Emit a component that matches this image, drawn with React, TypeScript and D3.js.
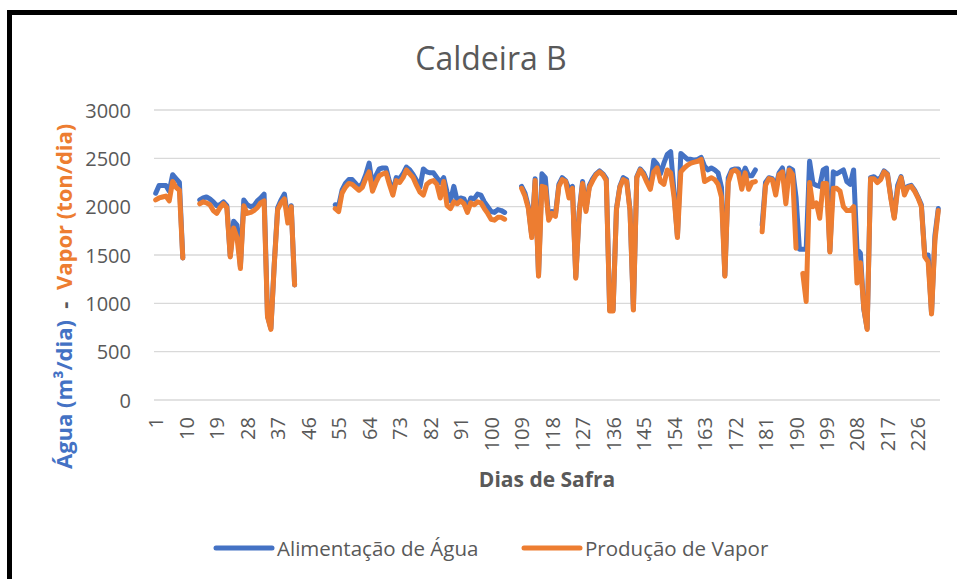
import * as d3 from "d3"

// Alimentação de Água (m³/dia), one value per dia de safra, null = sem dado
const agua: (number | null)[] = [
  2140, 2220, 2220, 2220, 2160, 2330, 2290, 2250, 1470, null,
  null, null, null, 2070, 2090, 2100, 2080, 2050, 2010, 2020,
  2050, 2010, 1490, 1850, 1810, 1380, 2070, 2020, 2000, 2010,
  2060, 2090, 2130, 870, 740, 1410, 1990, 2070, 2130, 1870,
  2010, 1190, null, null, null, null, null, null, null, null,
  null, null, null, 2020, 2010, 2170, 2240, 2280, 2280, 2240,
  2200, 2240, 2330, 2450, 2210, 2320, 2390, 2400, 2400, 2260,
  2150, 2300, 2290, 2340, 2410, 2380, 2330, 2270, 2200, 2390,
  2360, 2350, 2350, 2300, 2250, 2300, 2150, 2060, 2210, 2060,
  2090, 2080, 1980, 2090, 2080, 2130, 2120, 2050, 2000, 1950,
  1940, 1970, 1960, 1940, null, null, null, null, 2210, 2140,
  2000, 1700, 2290, 1290, 2340, 2300, 1880, 1950, 1920, 2230,
  2300, 2270, 2180, 2210, 1270, 1950, 2260, 1970, 2220, 2290,
  2340, 2370, 2340, 2290, 930, 930, 1980, 2210, 2300, 2280,
  1970, 940, 2310, 2390, 2350, 2270, 2200, 2480, 2440, 2340,
  2450, 2540, 2570, 2150, 1690, 2550, 2520, 2490, 2490, 2480,
  2490, 2510, 2420, 2380, 2400, 2380, 2350, 2200, 1290, 2300,
  2380, 2390, 2390, 2300, 2400, 2320, 2320, 2380, null, 1810,
  2250, 2300, 2290, 2200, 2350, 2400, 2140, 2400, 2380, 2100,
  1560, 1560, 1560, 2470, 2240, 2220, 2210, 2380, 2400, 1540,
  2360, 2340, 2360, 2380, 2260, 2230, 2380, 1560, 1520, 940,
  740, 2300, 2310, 2280, 2300, 2370, 2340, 2100, 1890, 2220,
  2310, 2150, 2210, 2220, 2170, 2100, 2020, 1500, 1500, 900,
  1700, 1980,
]

// Produção de Vapor (ton/dia)
const vapor: (number | null)[] = [
  2070, 2090, 2100, 2110, 2060, 2260, 2200, 2170, 1470, null,
  null, null, null, 2030, 2050, 2040, 2020, 1960, 1930, 1990,
  2030, 1990, 1480, 1780, 1680, 1360, 2010, 1930, 1940, 1960,
  1990, 2040, 2060, 860, 730, 1400, 1970, 2040, 2080, 1830,
  2000, 1190, null, null, null, null, null, null, null, null,
  null, null, null, 1980, 1950, 2140, 2200, 2240, 2230, 2200,
  2170, 2200, 2290, 2360, 2160, 2250, 2320, 2340, 2350, 2230,
  2120, 2270, 2250, 2300, 2380, 2340, 2300, 2220, 2150, 2120,
  2230, 2260, 2270, 2230, 2090, 2260, 2010, 1980, 2050, 2030,
  2060, 2030, 1940, 2040, 2020, 2050, 2040, 1980, 1930, 1870,
  1860, 1890, 1890, 1870, null, null, null, null, 2190, 2110,
  1980, 1680, 2270, 1280, 2210, 2200, 1860, 1930, 1900, 2210,
  2280, 2260, 2090, 2190, 1260, 1930, 2240, 1950, 2200, 2270,
  2330, 2360, 2330, 2270, 920, 920, 1970, 2200, 2280, 2260,
  1960, 930, 2300, 2380, 2330, 2250, 2180, 2360, 2400, 2260,
  2230, 2380, 2350, 2100, 1680, 2360, 2400, 2430, 2450, 2460,
  2470, 2490, 2260, 2280, 2300, 2280, 2230, 2100, 1280, 2250,
  2360, 2380, 2350, 2180, 2350, 2180, 2250, 2260, null, 1740,
  2220, 2290, 2280, 2120, 2330, 2360, 2030, 2380, 2330, 1570,
  null, 1310, 1020, 2250, 2000, 2040, 1880, 2240, 2240, 1530,
  2190, 2190, 2160, 2000, 1960, 1960, 2000, 1210, 1420, 950,
  730, 2290, 2290, 2250, 2280, 2360, 2330, 2080, 1880, 2180,
  2300, 2120, 2200, 2210, 2160, 2090, 2000, 1480, 1430, 890,
  1650, 1960,
]

const dias = agua.map((_, i) => i + 1)
const xTicks = [1, 10, 19, 28, 37, 46, 55, 64, 73, 82, 91, 100, 109, 118, 127, 136, 145, 154, 163, 172, 181, 190, 199, 208, 217, 226]
const yTicks = [0, 500, 1000, 1500, 2000, 2500, 3000]

const W = 957
const H = 579
const plot = { left: 154, right: 940, top: 110, bottom: 400 }
const font = "'Open Sans', 'Noto Sans', sans-serif"
const cinza = "#595959"
const azul = "#4472C4"
const laranja = "#ED7D31"

export default function App() {
  const x = d3.scaleBand<number>().domain(dias).range([plot.left, plot.right])
  const cx = (d: number) => (x(d) ?? 0) + x.bandwidth() / 2
  const y = d3.scaleLinear().domain([0, 3000]).range([plot.bottom, plot.top])

  const line = d3
    .line<number | null>()
    .defined((v) => v != null)
    .x((_, i) => cx(dias[i]))
    .y((v) => y(v as number))

  return (
    <svg width={W} height={H} style={{ position: "absolute", left: 0, top: 0, background: "#fff" }} fontFamily={font}>
      <rect x={9.5} y={12.5} width={1000} height={700} fill="#fff" stroke="#000" strokeWidth={5} />

      <text x={491} y={70} textAnchor="middle" fontSize={32} fill={cinza}>
        Caldeira B
      </text>

      {/* grid */}
      {yTicks.map((t) => (
        <g key={t}>
          <line x1={plot.left} x2={plot.right} y1={y(t)} y2={y(t)} stroke="#D9D9D9" strokeWidth={1.3} />
          <text x={131} y={y(t)} textAnchor="end" dominantBaseline="central" fontSize={20} fill={cinza}>
            {t}
          </text>
        </g>
      ))}

      {xTicks.map((d) => (
        <text
          key={d}
          transform={`translate(${cx(d)},${plot.bottom + 17}) rotate(-90)`}
          textAnchor="end"
          dominantBaseline="central"
          fontSize={20}
          fill={cinza}
        >
          {d}
        </text>
      ))}

      <path d={line(agua) ?? ""} fill="none" stroke={azul} strokeWidth={5} strokeLinejoin="round" strokeLinecap="round" />
      <path d={line(vapor) ?? ""} fill="none" stroke={laranja} strokeWidth={5} strokeLinejoin="round" strokeLinecap="round" />

      <text x={(plot.left + plot.right) / 2} y={487} textAnchor="middle" fontSize={21} fontWeight="bold" fill={cinza}>
        Dias de Safra
      </text>

      <text transform="translate(72,469) rotate(-90)" textAnchor="start" fontSize={22} fontWeight="bold" style={{ whiteSpace: "pre" }}>
        <tspan fill={azul}>Água (m³/dia)</tspan>
        <tspan fill={cinza}>  -  </tspan>
        <tspan fill={laranja}>Vapor (ton/dia)</tspan>
      </text>

      {/* legend */}
      <line x1={216} x2={272} y1={548} y2={548} stroke={azul} strokeWidth={5} strokeLinecap="round" />
      <text x={277} y={548} dominantBaseline="central" fontSize={20.5} fill={cinza}>
        Alimentação de Água
      </text>
      <line x1={524} x2={580} y1={548} y2={548} stroke={laranja} strokeWidth={5} strokeLinecap="round" />
      <text x={585} y={548} dominantBaseline="central" fontSize={20.5} fill={cinza}>
        Produção de Vapor
      </text>
    </svg>
  )
}
